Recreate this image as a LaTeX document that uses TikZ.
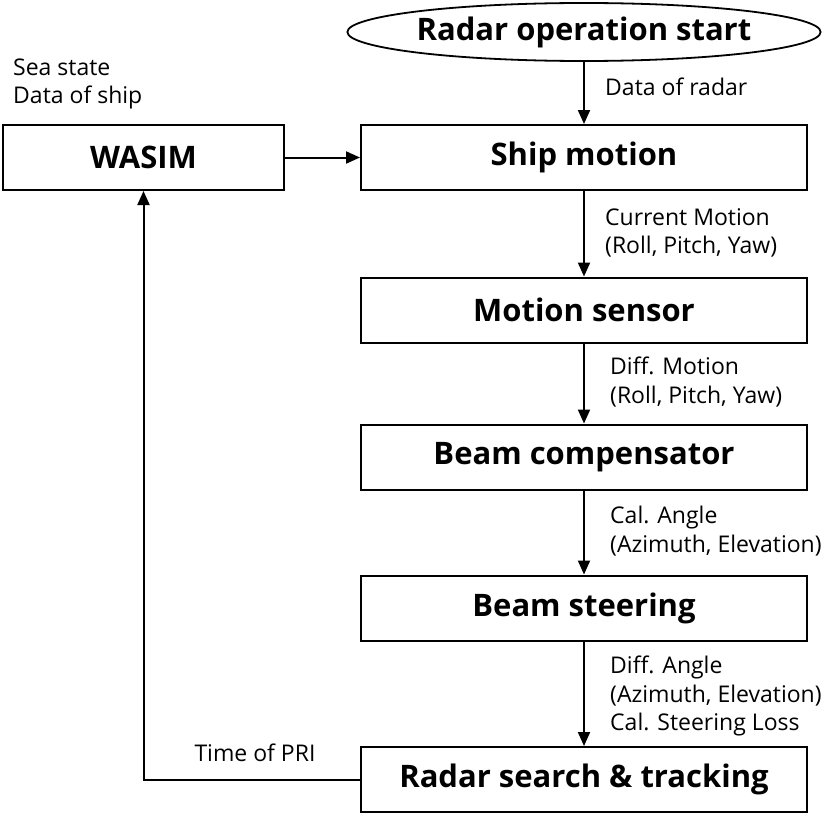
\documentclass[tikz,border=0pt]{standalone}
\usepackage{fontspec}
\setmainfont{Open Sans}
\usetikzlibrary{arrows.meta,shapes.geometric}
\begin{document}
\begin{tikzpicture}[x=1pt,y=-1pt,
  box/.style={draw,line width=2pt,minimum width=446pt,minimum height=65pt,inner sep=0pt,font=\fontsize{31}{34}\selectfont\bfseries},
  lbl/.style={anchor=west,align=left,inner sep=0pt,font=\fontsize{23}{28.5}\selectfont},
  arr/.style={line width=2pt,-{Triangle[length=14pt,width=12pt]}}]
\useasboundingbox (0,0) rectangle (827,816);
\node[draw,ellipse,line width=1.8pt,minimum width=445pt,minimum height=58pt,inner sep=0pt,font=\fontsize{31}{34}\selectfont\bfseries] (start) at (584,32) {Radar operation start};
\node[box] (ship) at (584,157.5) {Ship motion};
\node[box,minimum width=281pt] (wasim) at (143.5,157.5) {WASIM};
\node[box] (sensor) at (584,310) {Motion sensor};
\node[box] (comp) at (584,457) {Beam compensator};
\node[box] (steer) at (584,608) {Beam steering};
\node[box] (radar) at (584,779.5) {Radar search \& tracking};
\draw[arr] (start) -- (ship);
\draw[arr] (wasim) -- (ship);
\draw[arr] (ship) -- (sensor);
\draw[arr] (sensor) -- (comp);
\draw[arr] (comp) -- (steer);
\draw[arr] (steer) -- (radar);
\draw[arr] (radar.west) -| (wasim.south);
\node[lbl] (l0) at (605,87) {Data of radar};
\node[lbl] (l1) at (605,233) {Current Motion\\(Roll, Pitch, Yaw)};
\node[lbl] (l2) at (610,382) {Diff. Motion\\(Roll, Pitch, Yaw)};
\node[lbl] (l3) at (610,531) {Cal. Angle\\(Azimuth, Elevation)};
\node[lbl] (l4) at (610,696) {Diff. Angle\\(Azimuth, Elevation)\\Cal. Steering Loss};
\node[lbl] (l5) at (13,84) {Sea state\\Data of ship};
\node[lbl,anchor=center] (l6) at (255,753) {Time of PRI};
\end{tikzpicture}
\end{document}
